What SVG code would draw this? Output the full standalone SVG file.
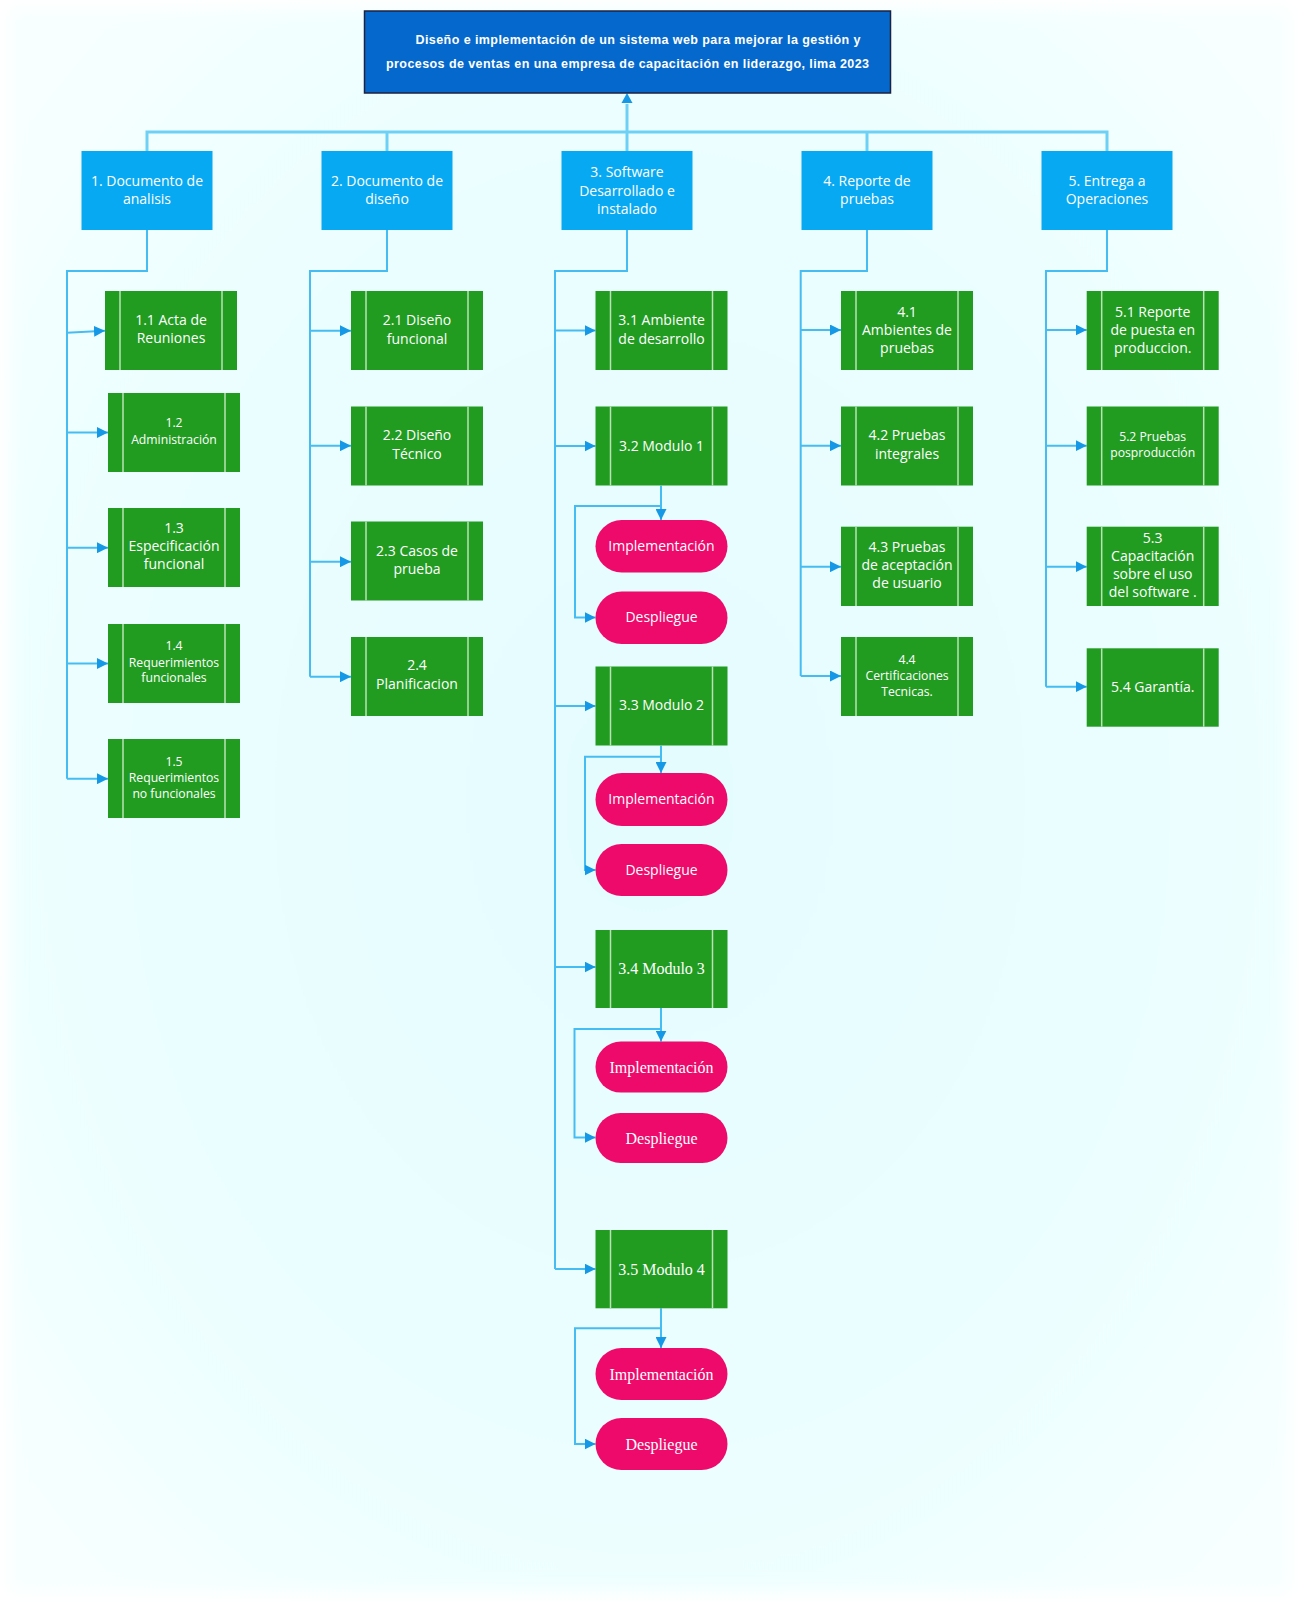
<svg xmlns="http://www.w3.org/2000/svg" width="1299" height="1601" viewBox="0 0 1299 1601">
  <defs>
    <radialGradient id="bgGrad" cx="50%" cy="50%" r="65%">
      <stop offset="0" stop-color="#e4fcfe"/>
      <stop offset="0.7" stop-color="#ecfeff"/>
      <stop offset="1" stop-color="#f7ffff"/>
    </radialGradient>
    <filter id="soft" x="-5%" y="-5%" width="110%" height="110%">
      <feGaussianBlur stdDeviation="8"/>
    </filter>
    <marker id="arrow" viewBox="0 0 10 10" refX="10" refY="5" markerWidth="11" markerHeight="11" markerUnits="userSpaceOnUse" orient="auto">
      <path d="M0,0 L10,5 L0,10 Z" fill="#1598e6"/>
    </marker>
    <style>
      .title { fill: #0568cc; stroke: #1c2240; stroke-width: 1.5; }
      .title-text { font-family: "Liberation Sans", Arial, sans-serif; font-weight: bold; font-size: 12.5px; fill: #ffffff; }
      .lvl1 { fill: #07a9f2; }
      .task { fill: #219c21; }
      .task-line { stroke: #b9e3b4; stroke-width: 1.5; }
      .step { fill: #ee0a6b; }
      .lbl { font-family: "Open Sans", "Noto Sans", sans-serif; font-size: 14px; fill: #ffffff; text-anchor: middle; }
      .lbl-sm { font-family: "Open Sans", "Noto Sans", sans-serif; font-size: 12.2px; fill: #ffffff; text-anchor: middle; }
      .lbl-serif { font-family: "Liberation Serif", "Times New Roman", serif; font-size: 16px; fill: #ffffff; text-anchor: middle; }
      .wire-top { fill: none; stroke: #6fd0f6; stroke-width: 3; }
      .wire { fill: none; stroke: #45bdf2; stroke-width: 2; }
      .wire-arrow { fill: none; stroke: #45bdf2; stroke-width: 2; marker-end: url(#arrow); }
    </style>
  </defs>

  <!-- page background -->
  <rect x="0" y="0" width="1299" height="1601" fill="#ffffff"/>
  <rect x="10" y="10" width="1279" height="1581" fill="url(#bgGrad)" filter="url(#soft)"/>

  <!-- connectors -->
  <g id="connectors">
    <!-- root to first level -->
    <path class="wire-top" d="M147,151 V132 H1107 V151 M387,132 V151 M867,132 V151"/>
    <path class="wire-top" d="M627,151 V104"/>
    <path d="M621.5,103 L627,93 L632.5,103 Z" fill="#1598e6"/>

    <!-- branch 1 -->
    <path class="wire" d="M147,230 V271 H67 V778.7"/>
    <path class="wire-arrow" d="M67,332.7 L105,330.7"/>
    <path class="wire-arrow" d="M67,432.5 H108"/>
    <path class="wire-arrow" d="M67,547.7 H108"/>
    <path class="wire-arrow" d="M67,663.5 H108"/>
    <path class="wire-arrow" d="M67,778.7 H108"/>

    <!-- branch 2 -->
    <path class="wire" d="M387,230 V271 H310 V676.7"/>
    <path class="wire-arrow" d="M310,330.7 H351"/>
    <path class="wire-arrow" d="M310,445.7 H351"/>
    <path class="wire-arrow" d="M310,561.7 H351"/>
    <path class="wire-arrow" d="M310,676.7 H351"/>

    <!-- branch 3 -->
    <path class="wire" d="M627,230 V271 H555 V1269"/>
    <path class="wire-arrow" d="M555,330.5 H595.5"/>
    <path class="wire-arrow" d="M555,446 H595.5"/>
    <path class="wire-arrow" d="M555,706 H595.5"/>
    <path class="wire-arrow" d="M555,967 H595.5"/>
    <path class="wire-arrow" d="M555,1269 H595.5"/>
    <!-- module 1 steps -->
    <path class="wire-arrow" d="M661,485.7 V520"/>
    <path class="wire-arrow" d="M661,506 H575 V617.5 H595.5"/>
    <!-- module 2 steps -->
    <path class="wire-arrow" d="M661,745.7 V773"/>
    <path class="wire-arrow" d="M661,756.7 H585 V870 H595.5"/>
    <!-- module 3 steps -->
    <path class="wire-arrow" d="M661,1008 V1041.6"/>
    <path class="wire-arrow" d="M661,1029 H574.5 V1137.6 H595.5"/>
    <!-- module 4 steps -->
    <path class="wire-arrow" d="M661,1308.3 V1348"/>
    <path class="wire-arrow" d="M661,1328.3 H575 V1444 H595.5"/>

    <!-- branch 4 -->
    <path class="wire" d="M867,230 V271 H800.7 V676"/>
    <path class="wire-arrow" d="M800.7,330 H841"/>
    <path class="wire-arrow" d="M800.7,445.7 H841"/>
    <path class="wire-arrow" d="M800.7,566.7 H841"/>
    <path class="wire-arrow" d="M800.7,676 H841"/>

    <!-- branch 5 -->
    <path class="wire" d="M1107,230 V271 H1046 V686.7"/>
    <path class="wire-arrow" d="M1046,330 H1086.7"/>
    <path class="wire-arrow" d="M1046,445.7 H1086.7"/>
    <path class="wire-arrow" d="M1046,566.7 H1086.7"/>
    <path class="wire-arrow" d="M1046,686.7 H1086.7"/>
  </g>

  <!-- root -->
  <g id="root">
    <rect class="title" x="364.5" y="11" width="526" height="82"/>
    <text class="title-text" x="415.5" y="44" textLength="445" lengthAdjust="spacing">Diseño e implementación de un sistema web para mejorar la gestión y</text>
    <text class="title-text" x="386" y="67.5" textLength="483" lengthAdjust="spacing">procesos de ventas en una empresa de capacitación en liderazgo, lima 2023</text>
  </g>

  <!-- first level -->
  <g id="n1">
    <rect class="lvl1" x="81.5" y="151" width="131" height="79"/>
    <text class="lbl" x="147" y="185.5">1. Documento de</text>
    <text class="lbl" x="147" y="204">analisis</text>
  </g>
  <g id="n2">
    <rect class="lvl1" x="321.5" y="151" width="131" height="79"/>
    <text class="lbl" x="387" y="185.5">2. Documento de</text>
    <text class="lbl" x="387" y="204">diseño</text>
  </g>
  <g id="n3">
    <rect class="lvl1" x="561.5" y="151" width="131" height="79"/>
    <text class="lbl" x="627" y="177">3. Software</text>
    <text class="lbl" x="627" y="195.5">Desarrollado e</text>
    <text class="lbl" x="627" y="214">instalado</text>
  </g>
  <g id="n4">
    <rect class="lvl1" x="801.5" y="151" width="131" height="79"/>
    <text class="lbl" x="867" y="185.5">4. Reporte de</text>
    <text class="lbl" x="867" y="204">pruebas</text>
  </g>
  <g id="n5">
    <rect class="lvl1" x="1041.5" y="151" width="131" height="79"/>
    <text class="lbl" x="1107" y="185.5">5. Entrega a</text>
    <text class="lbl" x="1107" y="204">Operaciones</text>
  </g>

  <!-- branch 1 tasks -->
  <g id="n1-1">
    <rect class="task" x="105" y="291" width="132" height="79"/>
    <line class="task-line" x1="120" y1="291" x2="120" y2="370"/>
    <line class="task-line" x1="222" y1="291" x2="222" y2="370"/>
    <text class="lbl" x="171" y="324.5">1.1 Acta de</text>
    <text class="lbl" x="171" y="343">Reuniones</text>
  </g>
  <g id="n1-2">
    <rect class="task" x="108" y="393" width="132" height="79"/>
    <line class="task-line" x1="123" y1="393" x2="123" y2="472"/>
    <line class="task-line" x1="225" y1="393" x2="225" y2="472"/>
    <text class="lbl-sm" x="174" y="426.5">1.2</text>
    <text class="lbl-sm" x="174" y="443.5">Administración</text>
  </g>
  <g id="n1-3">
    <rect class="task" x="108" y="508" width="132" height="79"/>
    <line class="task-line" x1="123" y1="508" x2="123" y2="587"/>
    <line class="task-line" x1="225" y1="508" x2="225" y2="587"/>
    <text class="lbl" x="174" y="532.5">1.3</text>
    <text class="lbl" x="174" y="550.5">Especificación</text>
    <text class="lbl" x="174" y="568.5">funcional</text>
  </g>
  <g id="n1-4">
    <rect class="task" x="108" y="624" width="132" height="79"/>
    <line class="task-line" x1="123" y1="624" x2="123" y2="703"/>
    <line class="task-line" x1="225" y1="624" x2="225" y2="703"/>
    <text class="lbl-sm" x="174" y="650">1.4</text>
    <text class="lbl-sm" x="174" y="666.5">Requerimientos</text>
    <text class="lbl-sm" x="174" y="682">funcionales</text>
  </g>
  <g id="n1-5">
    <rect class="task" x="108" y="739" width="132" height="79"/>
    <line class="task-line" x1="123" y1="739" x2="123" y2="818"/>
    <line class="task-line" x1="225" y1="739" x2="225" y2="818"/>
    <text class="lbl-sm" x="174" y="765.5">1.5</text>
    <text class="lbl-sm" x="174" y="782">Requerimientos</text>
    <text class="lbl-sm" x="174" y="798">no funcionales</text>
  </g>

  <!-- branch 2 tasks -->
  <g id="n2-1">
    <rect class="task" x="351" y="291" width="132" height="79"/>
    <line class="task-line" x1="366" y1="291" x2="366" y2="370"/>
    <line class="task-line" x1="468" y1="291" x2="468" y2="370"/>
    <text class="lbl" x="417" y="325">2.1 Diseño</text>
    <text class="lbl" x="417" y="343.5">funcional</text>
  </g>
  <g id="n2-2">
    <rect class="task" x="351" y="406.5" width="132" height="79"/>
    <line class="task-line" x1="366" y1="406.5" x2="366" y2="485.5"/>
    <line class="task-line" x1="468" y1="406.5" x2="468" y2="485.5"/>
    <text class="lbl" x="417" y="440">2.2 Diseño</text>
    <text class="lbl" x="417" y="458.5">Técnico</text>
  </g>
  <g id="n2-3">
    <rect class="task" x="351" y="521.5" width="132" height="79"/>
    <line class="task-line" x1="366" y1="521.5" x2="366" y2="600.5"/>
    <line class="task-line" x1="468" y1="521.5" x2="468" y2="600.5"/>
    <text class="lbl" x="417" y="555.5">2.3 Casos de</text>
    <text class="lbl" x="417" y="573.5">prueba</text>
  </g>
  <g id="n2-4">
    <rect class="task" x="351" y="637" width="132" height="79"/>
    <line class="task-line" x1="366" y1="637" x2="366" y2="716"/>
    <line class="task-line" x1="468" y1="637" x2="468" y2="716"/>
    <text class="lbl" x="417" y="670">2.4</text>
    <text class="lbl" x="417" y="688.5">Planificacion</text>
  </g>

  <!-- branch 3 tasks -->
  <g id="n3-1">
    <rect class="task" x="595.5" y="291" width="132" height="79"/>
    <line class="task-line" x1="610.5" y1="291" x2="610.5" y2="370"/>
    <line class="task-line" x1="712.5" y1="291" x2="712.5" y2="370"/>
    <text class="lbl" x="661.5" y="325">3.1 Ambiente</text>
    <text class="lbl" x="661.5" y="343.5">de desarrollo</text>
  </g>
  <g id="n3-2">
    <rect class="task" x="595.5" y="406.5" width="132" height="79"/>
    <line class="task-line" x1="610.5" y1="406.5" x2="610.5" y2="485.5"/>
    <line class="task-line" x1="712.5" y1="406.5" x2="712.5" y2="485.5"/>
    <text class="lbl" x="661.5" y="450.5">3.2 Modulo 1</text>
  </g>
  <g id="n3-2-impl">
    <rect class="step" x="595.5" y="520" width="132" height="52.5" rx="26.25"/>
    <text class="lbl" x="661.5" y="550.5">Implementación</text>
  </g>
  <g id="n3-2-desp">
    <rect class="step" x="595.5" y="591.5" width="132" height="52.5" rx="26.25"/>
    <text class="lbl" x="661.5" y="622">Despliegue</text>
  </g>
  <g id="n3-3">
    <rect class="task" x="595.5" y="666.5" width="132" height="79"/>
    <line class="task-line" x1="610.5" y1="666.5" x2="610.5" y2="745.5"/>
    <line class="task-line" x1="712.5" y1="666.5" x2="712.5" y2="745.5"/>
    <text class="lbl" x="661.5" y="710">3.3 Modulo 2</text>
  </g>
  <g id="n3-3-impl">
    <rect class="step" x="595.5" y="773" width="132" height="53" rx="26.5"/>
    <text class="lbl" x="661.5" y="804">Implementación</text>
  </g>
  <g id="n3-3-desp">
    <rect class="step" x="595.5" y="844" width="132" height="52" rx="26"/>
    <text class="lbl" x="661.5" y="874.5">Despliegue</text>
  </g>
  <g id="n3-4">
    <rect class="task" x="595.5" y="930" width="132" height="78"/>
    <line class="task-line" x1="610.5" y1="930" x2="610.5" y2="1008"/>
    <line class="task-line" x1="712.5" y1="930" x2="712.5" y2="1008"/>
    <text class="lbl-serif" x="661.5" y="974">3.4 Modulo 3</text>
  </g>
  <g id="n3-4-impl">
    <rect class="step" x="595.5" y="1041.6" width="132" height="51" rx="25.5"/>
    <text class="lbl-serif" x="661.5" y="1072.5">Implementación</text>
  </g>
  <g id="n3-4-desp">
    <rect class="step" x="595.5" y="1113" width="132" height="50" rx="25"/>
    <text class="lbl-serif" x="661.5" y="1143.5">Despliegue</text>
  </g>
  <g id="n3-5">
    <rect class="task" x="595.5" y="1230" width="132" height="78.3"/>
    <line class="task-line" x1="610.5" y1="1230" x2="610.5" y2="1308.3"/>
    <line class="task-line" x1="712.5" y1="1230" x2="712.5" y2="1308.3"/>
    <text class="lbl-serif" x="661.5" y="1275">3.5 Modulo 4</text>
  </g>
  <g id="n3-5-impl">
    <rect class="step" x="595.5" y="1348" width="132" height="52" rx="26"/>
    <text class="lbl-serif" x="661.5" y="1379.5">Implementación</text>
  </g>
  <g id="n3-5-desp">
    <rect class="step" x="595.5" y="1418" width="132" height="52" rx="26"/>
    <text class="lbl-serif" x="661.5" y="1449.5">Despliegue</text>
  </g>

  <!-- branch 4 tasks -->
  <g id="n4-1">
    <rect class="task" x="841" y="291" width="132" height="79"/>
    <line class="task-line" x1="856" y1="291" x2="856" y2="370"/>
    <line class="task-line" x1="958" y1="291" x2="958" y2="370"/>
    <text class="lbl" x="907" y="316.5">4.1</text>
    <text class="lbl" x="907" y="334.5">Ambientes de</text>
    <text class="lbl" x="907" y="352.5">pruebas</text>
  </g>
  <g id="n4-2">
    <rect class="task" x="841" y="406.5" width="132" height="79"/>
    <line class="task-line" x1="856" y1="406.5" x2="856" y2="485.5"/>
    <line class="task-line" x1="958" y1="406.5" x2="958" y2="485.5"/>
    <text class="lbl" x="907" y="440">4.2 Pruebas</text>
    <text class="lbl" x="907" y="458.5">integrales</text>
  </g>
  <g id="n4-3">
    <rect class="task" x="841" y="526.7" width="132" height="79.3"/>
    <line class="task-line" x1="856" y1="526.7" x2="856" y2="606"/>
    <line class="task-line" x1="958" y1="526.7" x2="958" y2="606"/>
    <text class="lbl" x="907" y="551.5">4.3 Pruebas</text>
    <text class="lbl" x="907" y="570">de aceptación</text>
    <text class="lbl" x="907" y="587.5">de usuario</text>
  </g>
  <g id="n4-4">
    <rect class="task" x="841" y="637" width="132" height="79"/>
    <line class="task-line" x1="856" y1="637" x2="856" y2="716"/>
    <line class="task-line" x1="958" y1="637" x2="958" y2="716"/>
    <text class="lbl-sm" x="907" y="663.5">4.4</text>
    <text class="lbl-sm" x="907" y="679.5">Certificaciones</text>
    <text class="lbl-sm" x="907" y="696">Tecnicas.</text>
  </g>

  <!-- branch 5 tasks -->
  <g id="n5-1">
    <rect class="task" x="1086.7" y="291" width="132" height="79"/>
    <line class="task-line" x1="1101.7" y1="291" x2="1101.7" y2="370"/>
    <line class="task-line" x1="1203.7" y1="291" x2="1203.7" y2="370"/>
    <text class="lbl" x="1152.7" y="316.5">5.1 Reporte</text>
    <text class="lbl" x="1152.7" y="334.5">de puesta en</text>
    <text class="lbl" x="1152.7" y="352.5">produccion.</text>
  </g>
  <g id="n5-2">
    <rect class="task" x="1086.7" y="406.5" width="132" height="79"/>
    <line class="task-line" x1="1101.7" y1="406.5" x2="1101.7" y2="485.5"/>
    <line class="task-line" x1="1203.7" y1="406.5" x2="1203.7" y2="485.5"/>
    <text class="lbl-sm" x="1152.7" y="440.5">5.2 Pruebas</text>
    <text class="lbl-sm" x="1152.7" y="456.5">posproducción</text>
  </g>
  <g id="n5-3">
    <rect class="task" x="1086.7" y="526.7" width="132" height="79.3"/>
    <line class="task-line" x1="1101.7" y1="526.7" x2="1101.7" y2="606"/>
    <line class="task-line" x1="1203.7" y1="526.7" x2="1203.7" y2="606"/>
    <text class="lbl" x="1152.7" y="542.5">5.3</text>
    <text class="lbl" x="1152.7" y="560.5">Capacitación</text>
    <text class="lbl" x="1152.7" y="579">sobre el uso</text>
    <text class="lbl" x="1152.7" y="596.5">del software .</text>
  </g>
  <g id="n5-4">
    <rect class="task" x="1086.7" y="648.3" width="132" height="78.4"/>
    <line class="task-line" x1="1101.7" y1="648.3" x2="1101.7" y2="726.7"/>
    <line class="task-line" x1="1203.7" y1="648.3" x2="1203.7" y2="726.7"/>
    <text class="lbl" x="1152.7" y="691.5">5.4 Garantía.</text>
  </g>
</svg>
